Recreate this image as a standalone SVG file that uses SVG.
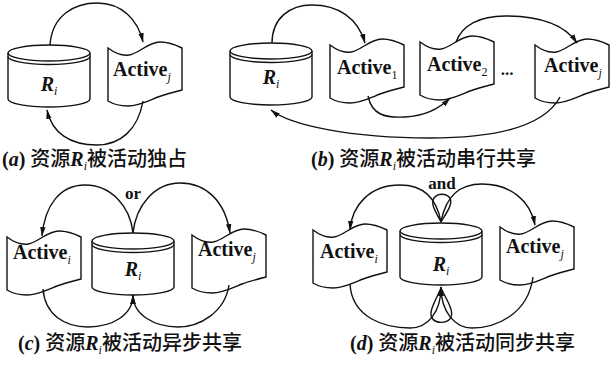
<svg xmlns="http://www.w3.org/2000/svg" width="610" height="366" viewBox="0 0 610 366">
  <style>
    .shape { fill: #fff; stroke: #111; stroke-width: 1.4; }
    .line { fill: none; stroke: #111; stroke-width: 1.4; }
    .lbl { font-family: "Liberation Serif", "Times New Roman", serif; font-size: 20px; font-weight: bold; fill: #111; }
    .res { font-family: "Liberation Serif", "Times New Roman", serif; font-size: 20px; font-weight: bold; font-style: italic; fill: #111; }
    .sub { font-size: 12px; font-weight: normal; }
    .it { font-style: italic; }
    .op { font-family: "Liberation Serif", "Times New Roman", serif; font-size: 17px; font-weight: bold; fill: #111; }
    .cap { font-family: "Liberation Serif", "Noto Sans CJK SC", serif; font-size: 20px; font-weight: 500; fill: #111; }
    .cap .lat { font-weight: bold; font-size: 20px; }
  </style>
  <defs>
    <marker id="ah" markerWidth="10" markerHeight="8" refX="9" refY="4" orient="auto" markerUnits="userSpaceOnUse">
      <path d="M0,1.3 L9.5,4 L0,6.7 Z" fill="#111"/>
    </marker>
    <!-- resource drum: origin at the centre of the top ellipse -->
    <g id="drum">
      <path class="shape" d="M-41,0 L-41,46 A41,8 0 0 0 41,46 L41,0"/>
      <ellipse class="shape" cx="0" cy="0" rx="41" ry="8"/>
      <path class="line" d="M-41,3.5 A41,8 0 0 0 41,3.5"/>
    </g>
    <!-- activity banner: origin at the top-left corner -->
    <path id="tape" class="shape" d="M0,0 C8,6 14,8 21,7 C32,5 40,-6 52,-6 C62,-6 68,-3 74,0 L74,42 C66,44 58,46 50,49 C40,53 30,58 20,58 C12,58 5,56 0,53 Z"/>
  </defs>

  <!-- (a) exclusive use -->
  <g id="a-res">
    <use href="#drum" x="49" y="53"/>
    <text class="res" x="49" y="91" text-anchor="middle">R<tspan class="sub" dy="4">i</tspan></text>
  </g>
  <g id="a-act">
    <use href="#tape" x="108" y="48"/>
    <text class="lbl" x="113" y="76">Active<tspan class="sub it" dy="5">j</tspan></text>
  </g>

  <!-- (b) serial sharing -->
  <g id="b-res">
    <use href="#drum" x="271" y="51"/>
    <text class="res" x="271" y="84" text-anchor="middle">R<tspan class="sub" dy="4">i</tspan></text>
  </g>
  <g id="b-act1">
    <use href="#tape" x="330" y="45"/>
    <text class="lbl" x="337" y="74">Active<tspan class="sub" dy="5">1</tspan></text>
  </g>
  <g id="b-act2">
    <use href="#tape" x="420" y="42"/>
    <text class="lbl" x="427" y="71">Active<tspan class="sub" dy="5">2</tspan></text>
  </g>
  <text class="op" x="507" y="75" text-anchor="middle">...</text>
  <g id="b-actj">
    <use href="#tape" x="535" y="45"/>
    <text class="lbl" x="544" y="72">Active<tspan class="sub it" dy="5">j</tspan></text>
  </g>

  <!-- (c) asynchronous sharing -->
  <g id="c-acti">
    <use href="#tape" x="7" y="237"/>
    <text class="lbl" x="13" y="259">Active<tspan class="sub it" dy="5">i</tspan></text>
  </g>
  <g id="c-res">
    <use href="#drum" x="133" y="241"/>
    <text class="res" x="133" y="276" text-anchor="middle">R<tspan class="sub" dy="4">i</tspan></text>
  </g>
  <g id="c-actj">
    <use href="#tape" x="192" y="235"/>
    <text class="lbl" x="198" y="256">Active<tspan class="sub it" dy="5">j</tspan></text>
  </g>
  <text class="op" x="133" y="199" text-anchor="middle">or</text>

  <!-- (d) synchronous sharing -->
  <g id="d-acti">
    <use href="#tape" x="313" y="230"/>
    <text class="lbl" x="320" y="258">Active<tspan class="sub it" dy="5">i</tspan></text>
  </g>
  <g id="d-res">
    <use href="#drum" x="441" y="231"/>
    <text class="res" x="441" y="271" text-anchor="middle">R<tspan class="sub" dy="4">i</tspan></text>
  </g>
  <g id="d-actj">
    <use href="#tape" x="500" y="227"/>
    <text class="lbl" x="506" y="253">Active<tspan class="sub it" dy="5">j</tspan></text>
  </g>
  <text class="op" x="442" y="189" text-anchor="middle">and</text>

  <!-- connectors -->
  <g id="connectors">
    <!-- (a) -->
    <path class="line" marker-end="url(#ah)" d="M50,45 C52,15 75,3 97,3 C122,3 138,20 143,42"/>
    <path class="line" marker-end="url(#ah)" d="M143,101 C138,130 120,145 97,145 C70,145 52,133 47,110"/>
    <!-- (b) -->
    <path class="line" marker-end="url(#ah)" d="M272,43 C272,18 290,5 312,5 C338,5 358,18 365,43"/>
    <path class="line" marker-end="url(#ah)" d="M368,96 C372,115 385,118 405,117 C425,116 440,108 450,98"/>
    <path class="line" marker-end="url(#ah)" d="M456,42 C462,25 480,16 505,16 C540,16 565,25 577,43"/>
    <path class="line" marker-end="url(#ah)" d="M560,97 C545,125 500,138 430,138 C350,138 290,125 271,110"/>
    <!-- (c) -->
    <path class="line" marker-end="url(#ah)" d="M133,233 C130,205 110,185 85,185 C60,185 45,205 42,236"/>
    <path class="line" marker-end="url(#ah)" d="M133,233 C136,205 155,183 180,183 C205,183 225,200 230,233"/>
    <path class="line" marker-end="url(#ah)" d="M43,289 C45,315 65,327 88,327 C112,327 133,315 133,295"/>
    <path class="line" marker-end="url(#ah)" d="M229,285 C225,312 200,327 178,327 C155,327 133,315 133,295"/>
    <!-- (d) -->
    <path class="line" marker-end="url(#ah)" d="M441,222 C436,195 420,185 400,185 C370,185 352,205 350,230"/>
    <path class="line" marker-end="url(#ah)" d="M441,222 C446,195 460,184 482,184 C510,184 530,200 535,225"/>
    <path class="line" d="M441,222 C436,212 430,204 434,198 C438,193 446,193 450,198 C453,204 447,212 441,222"/>
    <path class="line" marker-end="url(#ah)" d="M350,284 C352,318 385,328 410,328 C428,328 441,312 441,287"/>
    <path class="line" marker-end="url(#ah)" d="M533,277 C528,315 495,328 472,328 C455,328 441,312 441,287"/>
    <path class="line" d="M441,288 C436,300 428,312 432,318 C436,324 448,324 451,317 C454,310 446,299 441,288"/>
  </g>

  <!-- captions -->
  <text class="cap" x="2" y="166"><tspan class="lat">(<tspan class="it">a</tspan>) </tspan>资源<tspan class="lat it">R</tspan><tspan class="sub it" dy="4">i</tspan><tspan dy="-4">被活动独占</tspan></text>
  <text class="cap" x="311" y="166"><tspan class="lat">(<tspan class="it">b</tspan>) </tspan>资源<tspan class="lat it">R</tspan><tspan class="sub it" dy="4">i</tspan><tspan dy="-4">被活动串行共享</tspan></text>
  <text class="cap" x="18" y="350"><tspan class="lat">(<tspan class="it">c</tspan>) </tspan>资源<tspan class="lat it">R</tspan><tspan class="sub it" dy="4">i</tspan><tspan dy="-4">被活动异步共享</tspan></text>
  <text class="cap" x="350" y="350"><tspan class="lat">(<tspan class="it">d</tspan>) </tspan>资源<tspan class="lat it">R</tspan><tspan class="sub it" dy="4">i</tspan><tspan dy="-4">被活动同步共享</tspan></text>
</svg>
